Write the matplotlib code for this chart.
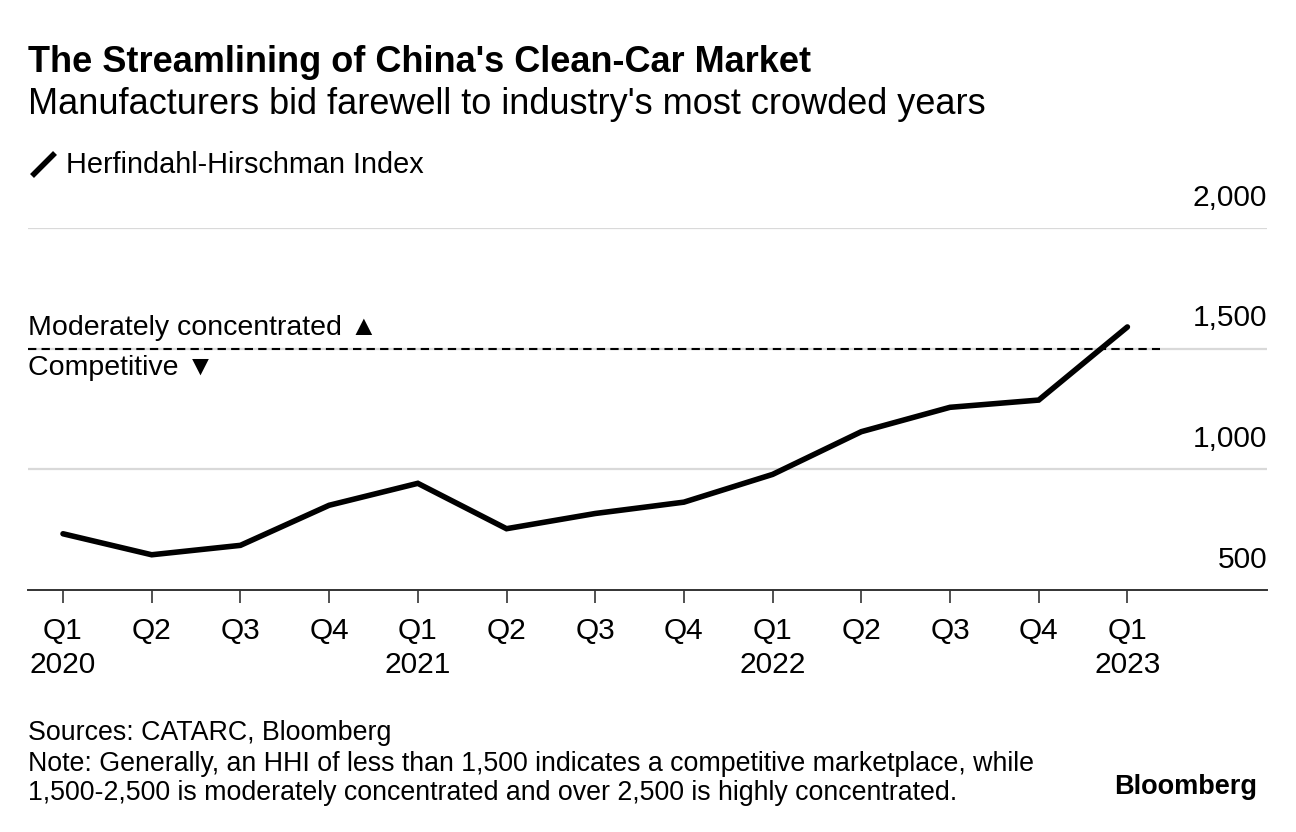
import matplotlib
matplotlib.use('Agg')
import matplotlib.pyplot as plt
from matplotlib.lines import Line2D

plt.rcParams['font.family'] = ['Liberation Sans', 'DejaVu Sans']

# Data
quarters = ['Q1', 'Q2', 'Q3', 'Q4', 'Q1', 'Q2', 'Q3', 'Q4', 'Q1', 'Q2', 'Q3', 'Q4', 'Q1']
years = ['2020', '', '', '', '2021', '', '', '', '2022', '', '', '', '2023']
hhi = [733, 646, 685, 851, 942, 754, 817, 864, 979, 1156, 1257, 1287, 1590]
y_ticks = [500, 1000, 1500, 2000]
y_tick_labels = ['500', '1,000', '1,500', '2,000']
threshold = 1500

W, H = 1296, 832
fig = plt.figure(figsize=(W / 100, H / 100), dpi=100)
fig.patch.set_facecolor('white')

# axes placed in pixel terms
left, right, top, bottom = 28, 1267, 228, 590
ax_h = bottom - top
ax = fig.add_axes([left / W, 1 - bottom / H, (right - left) / W, ax_h / H])

x = list(range(len(hhi)))
step = 88.7
x0 = 63
ax.set_xlim((left - x0) / step, (right - x0) / step)
ax.set_ylim(500, 2000)

for v in y_ticks[1:]:
    ax.axhline(v, color='#d9d9d9', lw=1.6, zorder=1)

dash_end = (1160 - x0) / step
ax.plot([(left - x0) / step, dash_end], [threshold, threshold], color='black',
        lw=1.5, ls=(0, (4, 2.5)), zorder=2)

ax.plot(x, hhi, color='black', lw=4, solid_capstyle='round',
        solid_joinstyle='miter', zorder=3)

for s in ['top', 'right', 'left']:
    ax.spines[s].set_visible(False)
ax.spines['bottom'].set_color('#333333')
ax.spines['bottom'].set_linewidth(1.4)

ax.set_yticks([])
ax.set_xticks(x)
ax.set_xticklabels([])
ax.tick_params(axis='x', length=9, width=1.2, color='#333333')

xt = ax.get_xaxis_transform()
for xi, q, yr in zip(x, quarters, years):
    ax.text(xi, -(631 - bottom) / ax_h, q, transform=xt, ha='center',
            va='center', fontsize=21.5)
    if yr:
        ax.text(xi, -(665 - bottom) / ax_h, yr, transform=xt, ha='center',
                va='center', fontsize=21.5)

# y labels sit above gridlines on the right
for v, lab in zip(y_ticks, y_tick_labels):
    ax.text(1.0, v + 125, lab, transform=ax.get_yaxis_transform(),
            ha='right', va='center', fontsize=21.5)

ax.text((left - x0) / step, threshold + 85, 'Moderately concentrated \u25B2',
        ha='left', va='center', fontsize=20.5)
ax.text((left - x0) / step, threshold - 82, 'Competitive \u25BC',
        ha='left', va='center', fontsize=20.5)

# header
fig.text(28 / W, 1 - 62 / H, "The Streamlining of China's Clean-Car Market",
         fontsize=26, fontweight='bold', va='center', ha='left')
fig.text(28 / W, 1 - 104 / H, "Manufacturers bid farewell to industry's most crowded years",
         fontsize=26, va='center', ha='left')

fig.add_artist(Line2D([32 / W, 55 / W], [1 - 176 / H, 1 - 153 / H],
                      color='black', lw=4, solid_capstyle='butt'))
fig.text(66 / W, 1 - 165 / H, 'Herfindahl-Hirschman Index', fontsize=20.8,
         va='center', ha='left')

# footer
fig.text(28 / W, 1 - 733 / H, 'Sources: CATARC, Bloomberg', fontsize=19.3,
         va='center', ha='left')
fig.text(28 / W, 1 - 764 / H,
         'Note: Generally, an HHI of less than 1,500 indicates a competitive marketplace, while',
         fontsize=19.3, va='center', ha='left')
fig.text(28 / W, 1 - 793 / H,
         '1,500-2,500 is moderately concentrated and over 2,500 is highly concentrated.',
         fontsize=19.3, va='center', ha='left')
fig.text(1257 / W, 1 - 787 / H, 'Bloomberg', fontsize=19.5, fontweight='bold',
         va='center', ha='right')

fig.savefig('out.png', dpi=100)
